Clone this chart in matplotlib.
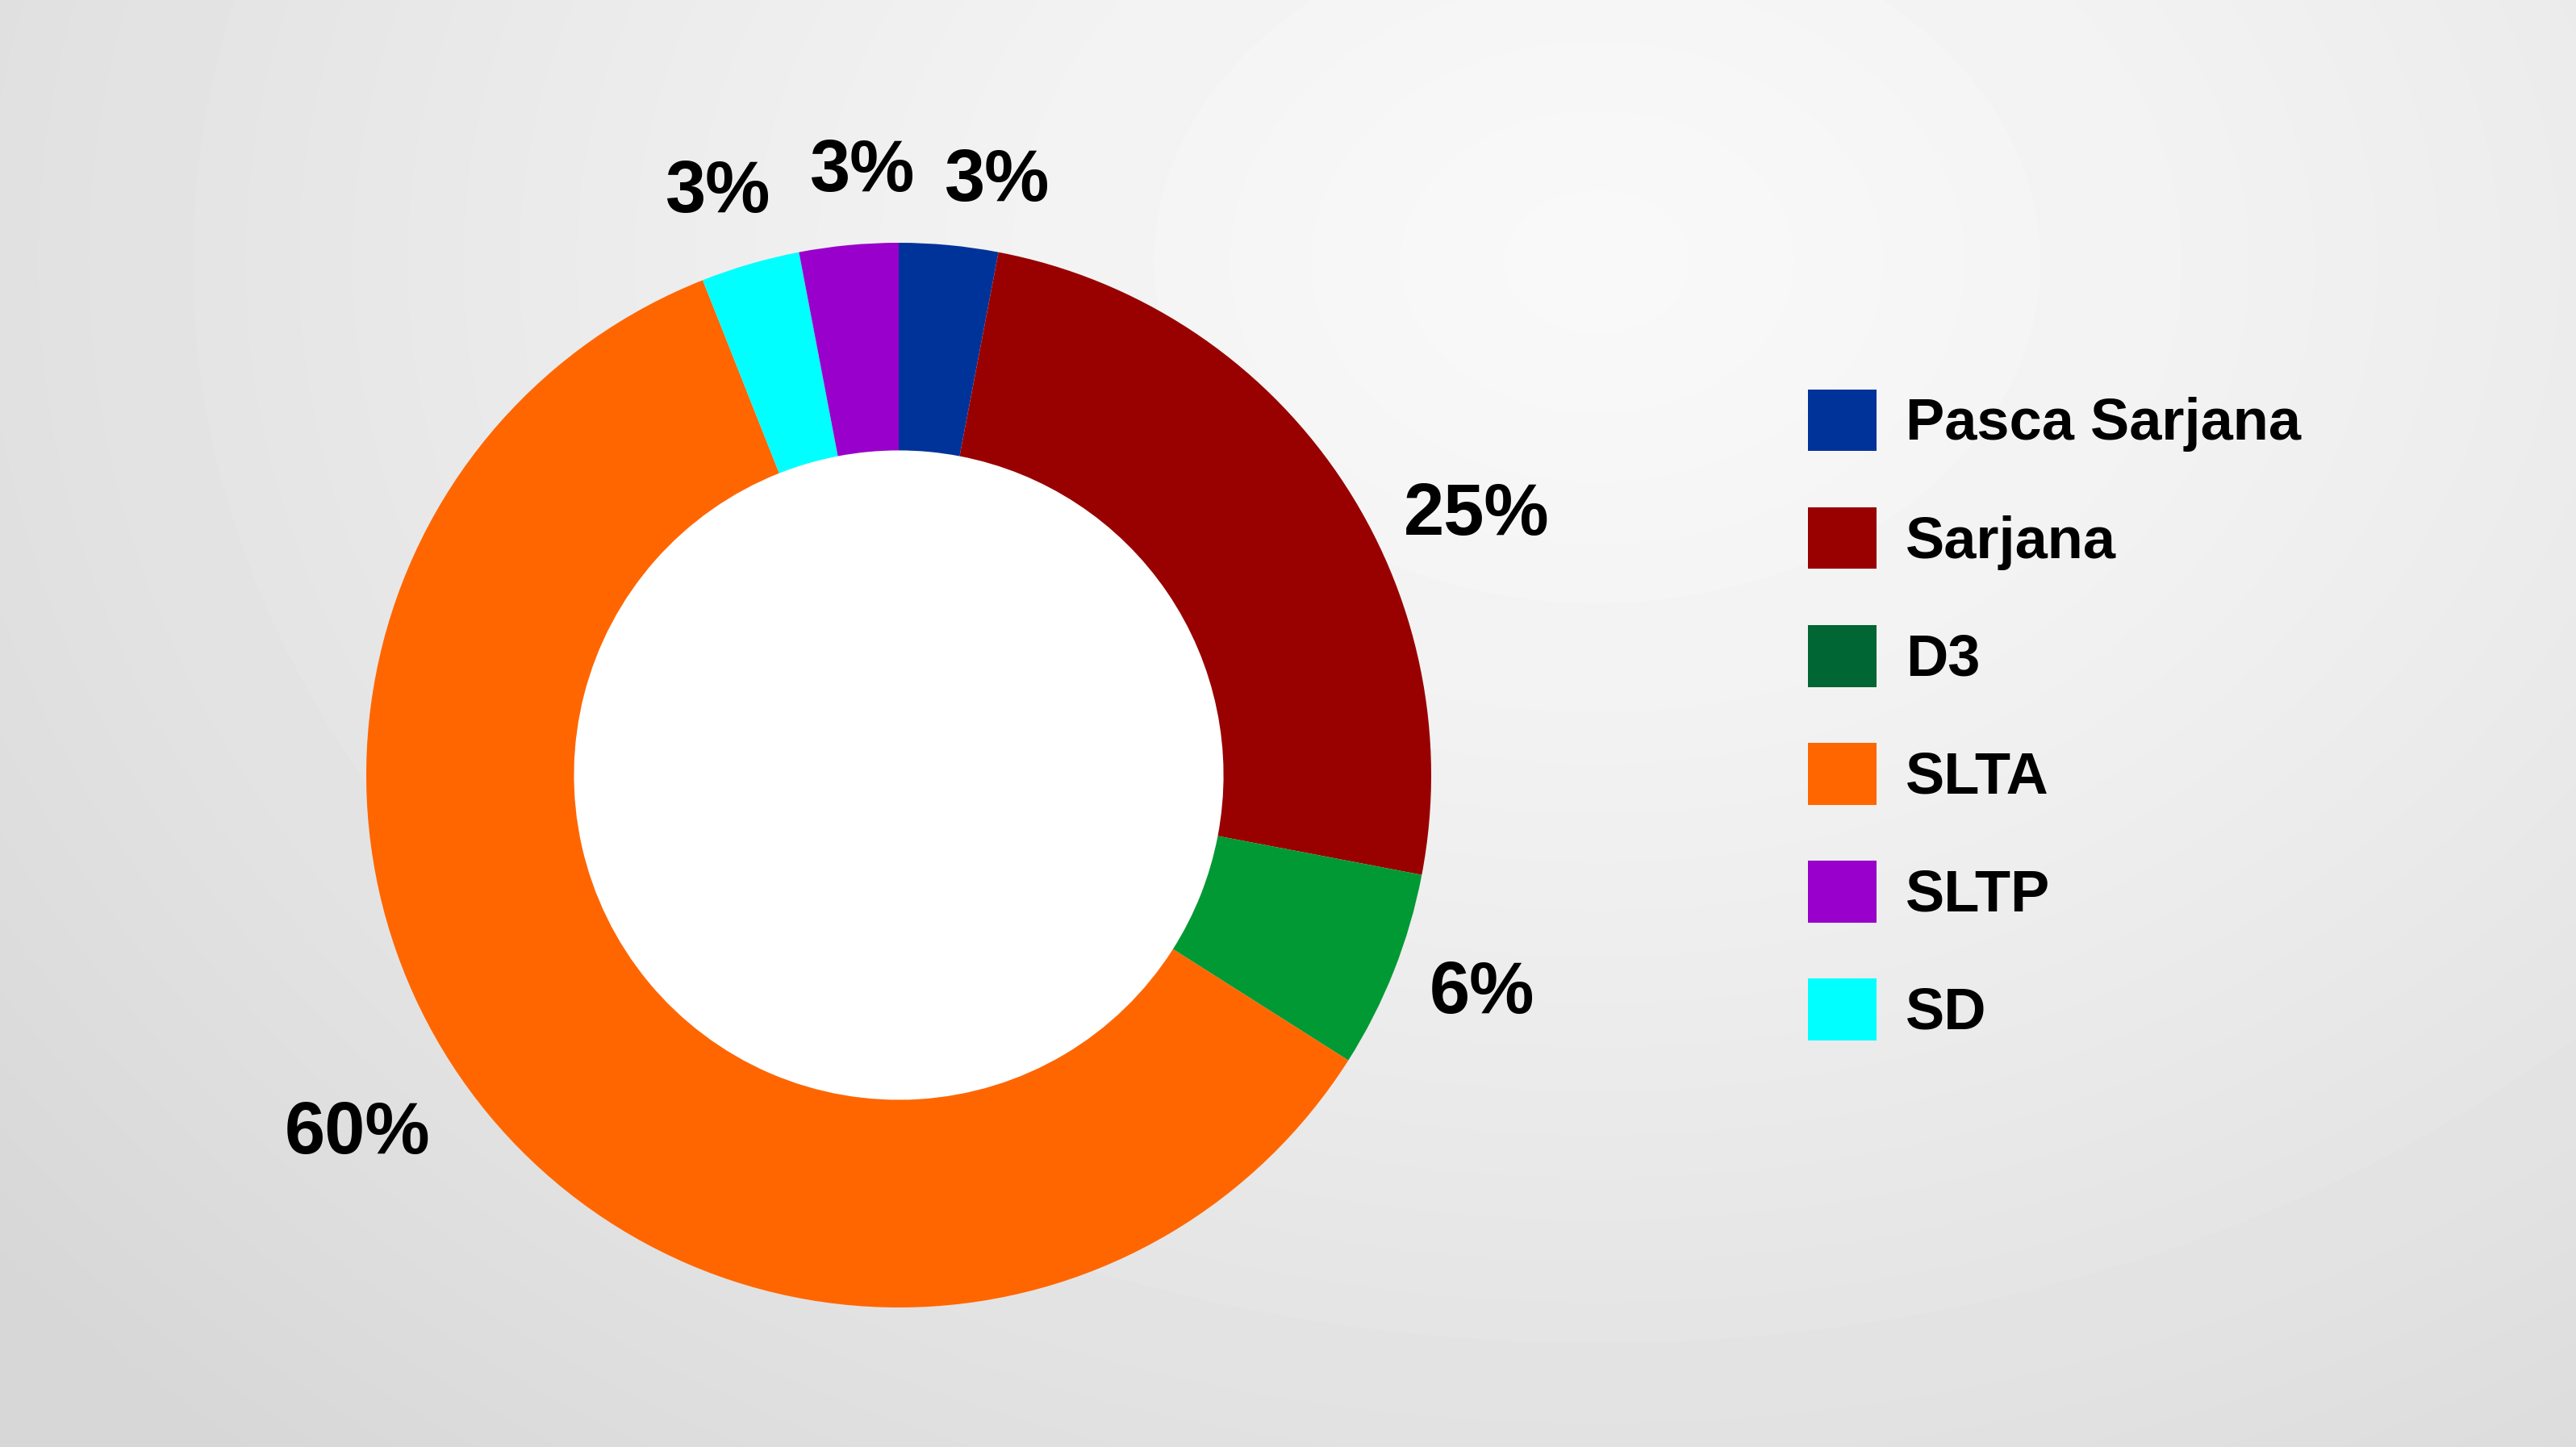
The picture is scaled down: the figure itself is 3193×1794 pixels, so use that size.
import numpy as np
import matplotlib.pyplot as plt
from matplotlib.patches import Patch, Circle

categories = ["Pasca Sarjana", "Sarjana", "D3", "SLTA", "SLTP", "SD"]
percentages = [3, 25, 6, 60, 3, 3]
legend_colors = ["#003399", "#990000", "#006633", "#FF6600", "#9900CC", "#00FFFF"]
slice_colors = ["#003399", "#990000", "#009933", "#FF6600", "#9900CC", "#00FFFF"]
# the ring runs clockwise from the top: SD comes before SLTP
slice_order = [0, 1, 2, 3, 5, 4]

W, H = 3193, 1794
DPI = 100
FONT = "Liberation Sans"

fig = plt.figure(figsize=(W / DPI, H / DPI), dpi=DPI)

# light radial background, brightest near the top middle
bg = fig.add_axes([0, 0, 1, 1], zorder=-10)
yy, xx = np.mgrid[0:H:4, 0:W:4]
d = np.sqrt(((xx - 0.62 * W) / (0.62 * W)) ** 2 + ((yy - 0.18 * H) / (0.85 * H)) ** 2)
shade = 0.975 - 0.095 * np.clip(d, 0, 1.3) ** 1.3
bg.imshow(shade, cmap="gray", vmin=0, vmax=1, aspect="auto", interpolation="bilinear")
bg.axis("off")

# donut, placed in pixel terms of the target image
cx, cy, R = 1114, 961, 660
ax = fig.add_axes([(cx - R) / W, (H - cy - R) / H, 2 * R / W, 2 * R / H])
values = [percentages[i] for i in slice_order]
colors = [slice_colors[i] for i in slice_order]
wedges, _ = ax.pie(values, colors=colors, startangle=90, counterclock=False,
                   wedgeprops=dict(width=0.39, linewidth=0))
ax.add_patch(Circle((0, 0), 0.61, facecolor="white", edgecolor="none", zorder=0))
ax.set_xlim(-1, 1)
ax.set_ylim(-1, 1)

# percentage labels outside the ring, nudged like the slide (degrees clockwise, radius)
label_nudge = [4, 10, -1, 6, -1, 2]
label_radius = [1.13, 1.19, 1.17, 1.22, 1.145, 1.135]
for w, v, nudge, r in zip(wedges, values, label_nudge, label_radius):
    mid = np.deg2rad((w.theta1 + w.theta2) / 2 - nudge)
    ax.text(r * np.cos(mid), r * np.sin(mid), f"{v}%", ha="center", va="center",
            fontsize=65, fontweight="bold", family=FONT, color="black")

handles = [Patch(facecolor=c, edgecolor="none") for c in legend_colors]
fig.legend(handles, categories, loc="upper left", bbox_to_anchor=(2241 / W, 1 - 483 / H),
           frameon=False, borderpad=0, borderaxespad=0, handlelength=1.18, handleheight=1.25,
           handletextpad=0.5, labelspacing=0.95,
           prop=dict(family=FONT, weight="bold", size=52))

fig.savefig("out.png", dpi=DPI)
